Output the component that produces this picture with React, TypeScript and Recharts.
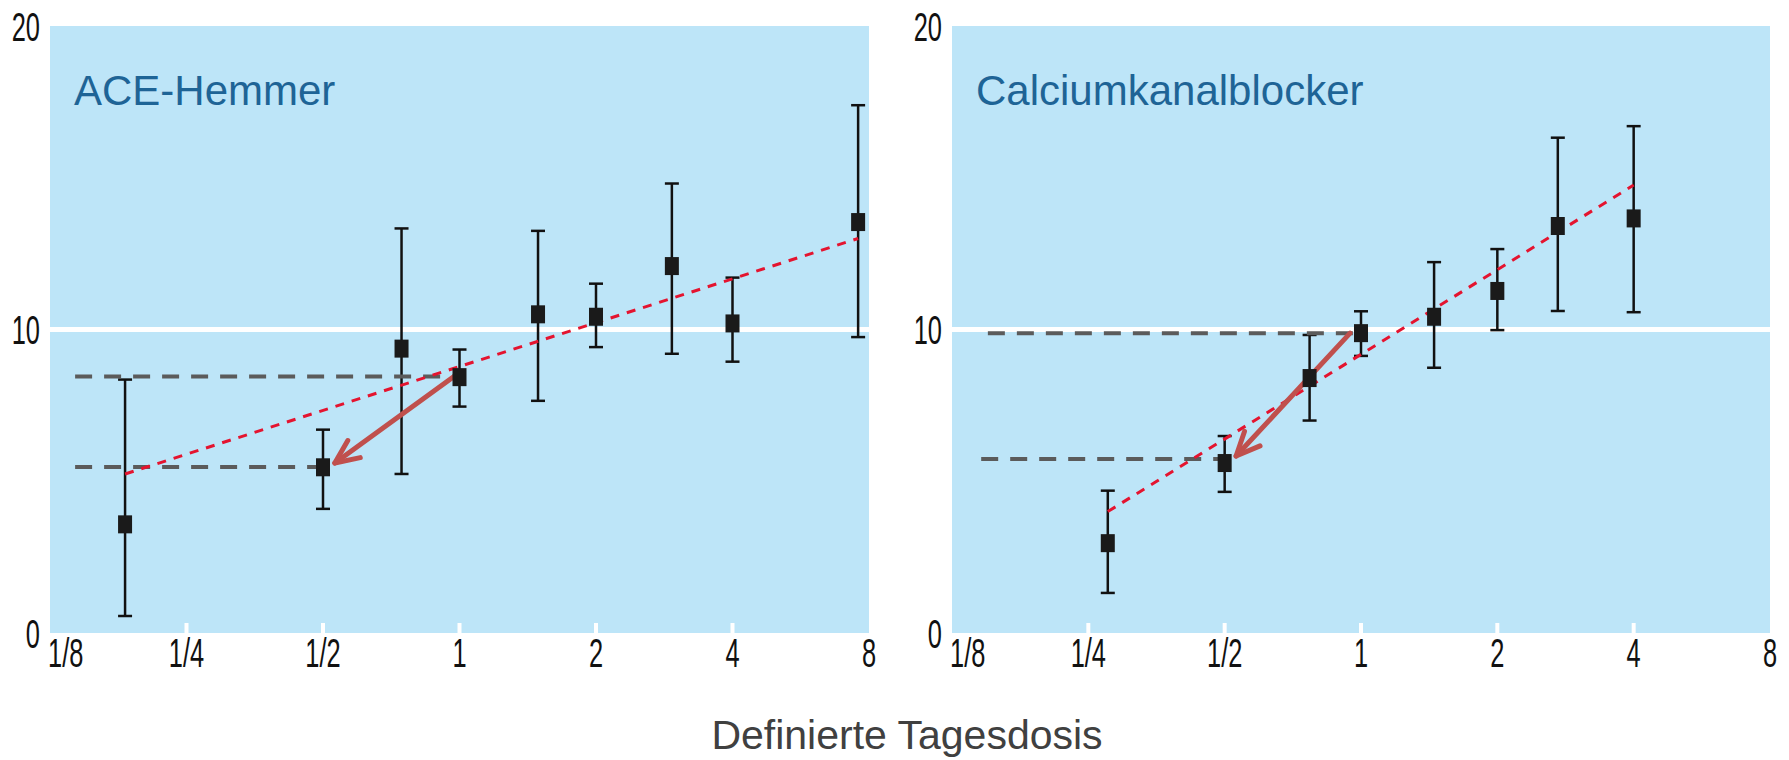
import React from "react";
import {
  CartesianGrid,
  ComposedChart,
  ErrorBar,
  ReferenceLine,
  Scatter,
  XAxis,
  YAxis,
} from "recharts";

// x axis: defined daily dose (log scale), y axis: effect
const doseTicks = [0.125, 0.25, 0.5, 1, 2, 4, 8];
const doseLabels = ["1/8", "1/4", "1/2", "1", "2", "4", "8"];
const yTicks = [0, 10, 20];

// ACE-Hemmer
const aceDose = [0.183, 0.5, 0.745, 1, 1.49, 2, 2.94, 4, 7.57];
const aceMean = [3.58, 5.46, 9.37, 8.43, 10.5, 10.42, 12.09, 10.2, 13.54];
const aceHigh = [8.35, 6.7, 13.33, 9.34, 13.25, 11.51, 14.81, 11.71, 17.39];
const aceLow = [0.56, 4.09, 5.24, 7.46, 7.65, 9.42, 9.2, 8.94, 9.75];
const aceTrendDose = [0.183, 7.57];
const aceTrendValue = [5.24, 13.0];
const aceRefValue = [8.45, 5.47];
const aceRefStart = [0.142, 0.142];
const aceRefEnd = [1, 0.53];
const aceArrowDose = [0.967, 0.531];
const aceArrowValue = [8.43, 5.6];

// Calciumkanalblocker
const ccbDose = [0.276, 0.5, 0.77, 1, 1.45, 2, 2.72, 4];
const ccbMean = [2.96, 5.6, 8.4, 9.88, 10.42, 11.27, 13.41, 13.66];
const ccbHigh = [4.69, 6.49, 9.82, 10.6, 12.22, 12.65, 16.32, 16.7];
const ccbLow = [1.32, 4.65, 7.0, 9.13, 8.74, 9.98, 10.61, 10.57];
const ccbTrendDose = [0.276, 4];
const ccbTrendValue = [4.0, 14.76];
const ccbRefValue = [9.88, 5.73];
const ccbRefStart = [0.15, 0.145];
const ccbRefEnd = [0.96, 0.5];
const ccbArrowDose = [0.946, 0.53];
const ccbArrowValue = [9.88, 5.83];

const FONT = "'Liberation Sans', Arial, sans-serif";
const BG = "#bde5f8";

const XTick = (props: any) => {
  const { x, y, payload } = props;
  const i = doseTicks.indexOf(payload.value);
  const edge = i === 0 || i === doseTicks.length - 1;
  return (
    <g>
      {!edge && <line x1={x} x2={x} y1={y - 10} y2={y} stroke="#fff" strokeWidth={4} />}
      <text
        transform={`translate(${i === 0 ? x - 2 : x},${y + 34}) scale(0.62,1)`}
        textAnchor={i === 0 ? "start" : "middle"}
        fill="#111"
        fontSize={41}
        fontFamily={FONT}
      >
        {doseLabels[i]}
      </text>
    </g>
  );
};

const YTick = (props: any) => {
  const { x, y, payload } = props;
  return (
    <text
      transform={`translate(${x - 10},${y + 14.7}) scale(0.62,1)`}
      textAnchor="end"
      fill="#111"
      fontSize={41}
      fontFamily={FONT}
    >
      {payload.value}
    </text>
  );
};

const Marker = (p: any) => (
  <rect x={p.cx - 7} y={p.cy - 9} width={14} height={18} fill="#1a1a1a" />
);

const ArrowShape = (p: any) => {
  const { x1, y1, x2, y2 } = p;
  const ang = Math.atan2(y2 - y1, x2 - x1);
  const len = 26;
  const spread = 0.42;
  const a1 = ang + Math.PI - spread;
  const a2 = ang + Math.PI + spread;
  return (
    <g stroke="#c0504d" strokeWidth={5} fill="none" strokeLinecap="round" strokeLinejoin="round">
      <line x1={x1} y1={y1} x2={x2} y2={y2} />
      <polyline
        points={`${x2 + len * Math.cos(a1)},${y2 + len * Math.sin(a1)} ${x2},${y2} ${x2 + len * Math.cos(a2)},${y2 + len * Math.sin(a2)}`}
      />
    </g>
  );
};

type PanelProps = {
  width: number;
  marginRight: number;
  dose: number[];
  mean: number[];
  low: number[];
  high: number[];
  trendDose: number[];
  trendValue: number[];
  refValue: number[];
  refStart: number[];
  refEnd: number[];
  arrowDose: number[];
  arrowValue: number[];
};

function Panel(p: PanelProps) {
  const rows = p.dose.map((d, i) => ({
    dose: d,
    mean: p.mean[i],
    err: [p.mean[i] - p.low[i], p.high[i] - p.mean[i]],
  }));
  return (
    <ComposedChart
      width={p.width}
      height={700}
      margin={{ top: 26, right: p.marginRight, bottom: 0, left: 0 }}
    >
      <CartesianGrid fill={BG} stroke="none" horizontal={false} vertical={false} />
      <XAxis
        dataKey="dose"
        type="number"
        scale="log"
        domain={[0.125, 8]}
        ticks={doseTicks}
        allowDataOverflow
        axisLine={false}
        tickLine={false}
        tickSize={0}
        tickMargin={0}
        height={67}
        interval={0}
        tick={<XTick />}
      />
      <YAxis
        type="number"
        domain={[0, 20]}
        ticks={yTicks}
        axisLine={false}
        tickLine={false}
        tickSize={0}
        tickMargin={0}
        width={50}
        interval={0}
        tick={<YTick />}
      />
      <ReferenceLine y={10} stroke="#fff" strokeWidth={5} />
      <Scatter data={rows} dataKey="mean" shape={<Marker />} isAnimationActive={false}>
        <ErrorBar dataKey="err" direction="y" width={7} strokeWidth={2.5} stroke="#111" />
      </Scatter>
      {p.refValue.map((v, i) => (
        <ReferenceLine
          key={`ref${i}`}
          segment={[
            { x: p.refStart[i], y: v },
            { x: p.refEnd[i], y: v },
          ]}
          stroke="#5b5b5b"
          strokeWidth={4}
          strokeDasharray="17 12"
        />
      ))}
      <ReferenceLine
        segment={[
          { x: p.trendDose[0], y: p.trendValue[0] },
          { x: p.trendDose[1], y: p.trendValue[1] },
        ]}
        stroke="#e4142f"
        strokeWidth={3}
        strokeDasharray="9 8"
      />
      <ReferenceLine
        segment={[
          { x: p.arrowDose[0], y: p.arrowValue[0] },
          { x: p.arrowDose[1], y: p.arrowValue[1] },
        ]}
        shape={<ArrowShape />}
      />
    </ComposedChart>
  );
}

export default function App() {
  return (
    <div
      style={{
        position: "absolute",
        left: 0,
        top: 0,
        width: 1789,
        height: 760,
        overflow: "hidden",
        background: "#fff",
      }}
    >
      <div style={{ position: "absolute", left: 0, top: 0 }}>
        <Panel
          width={900}
          marginRight={31}
          dose={aceDose}
          mean={aceMean}
          low={aceLow}
          high={aceHigh}
          trendDose={aceTrendDose}
          trendValue={aceTrendValue}
          refValue={aceRefValue}
          refStart={aceRefStart}
          refEnd={aceRefEnd}
          arrowDose={aceArrowDose}
          arrowValue={aceArrowValue}
        />
      </div>
      <div style={{ position: "absolute", left: 902, top: 0 }}>
        <Panel
          width={880}
          marginRight={12}
          dose={ccbDose}
          mean={ccbMean}
          low={ccbLow}
          high={ccbHigh}
          trendDose={ccbTrendDose}
          trendValue={ccbTrendValue}
          refValue={ccbRefValue}
          refStart={ccbRefStart}
          refEnd={ccbRefEnd}
          arrowDose={ccbArrowDose}
          arrowValue={ccbArrowValue}
        />
      </div>
      <svg
        width={1789}
        height={760}
        style={{ position: "absolute", left: 0, top: 0, pointerEvents: "none" }}
      >
        <text x={74} y={105} fontSize={42} fill="#1e6496" fontFamily={FONT}>
          ACE-Hemmer
        </text>
        <text x={976} y={105} fontSize={42} fill="#1e6496" fontFamily={FONT}>
          Calciumkanalblocker
        </text>
        <text x={907} y={749} fontSize={41} fill="#404040" fontFamily={FONT} textAnchor="middle">
          Definierte Tagesdosis
        </text>
      </svg>
    </div>
  );
}
